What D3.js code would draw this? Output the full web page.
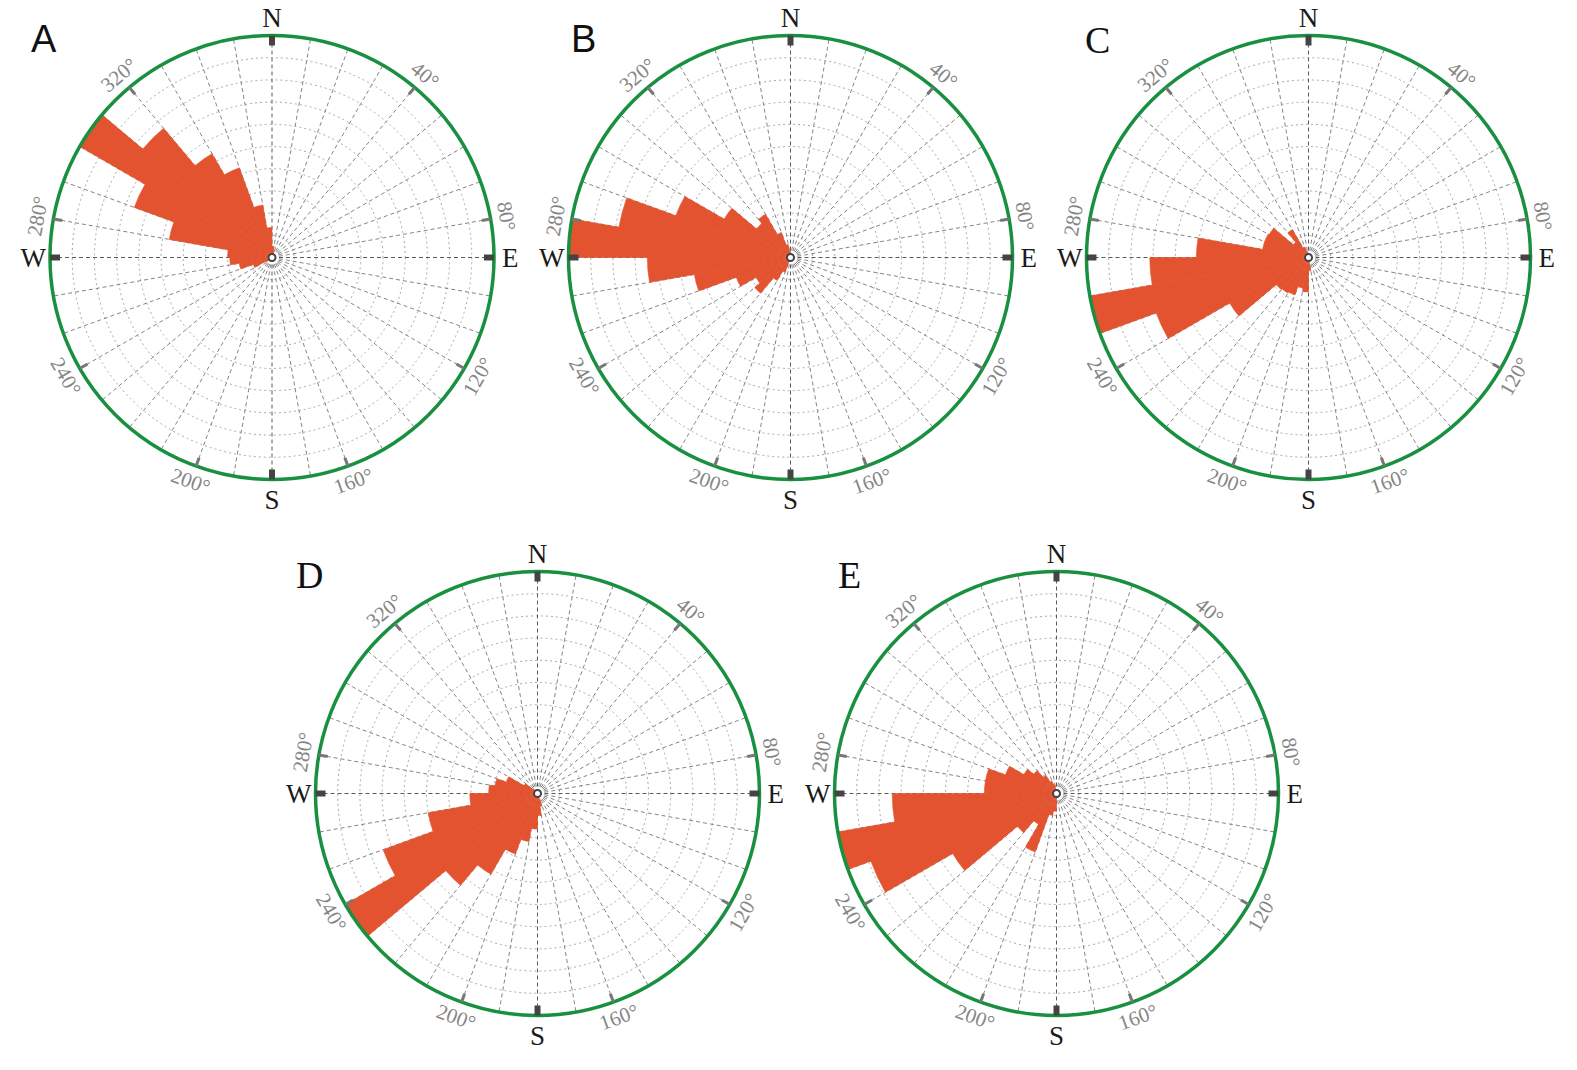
<!DOCTYPE html>
<html>
<head>
<meta charset="utf-8">
<script src="https://cdn.jsdelivr.net/npm/d3@7"></script>
<style>
  body { margin: 0; background: #fff; }
</style>
</head>
<body>
<div id="roses"></div>
<script>
// bin start directions (degrees clockwise from north), 10 degree bins
const binStarts = [0, 10, 20, 30, 40, 50, 60, 70, 80, 90, 100, 110,
  120, 130, 140, 150, 160, 170, 180, 190, 200, 210, 220, 230,
  240, 250, 260, 270, 280, 290, 300, 310, 320, 330, 340, 350];

// petal lengths in ring units (outer circle = 10)
const roseA = [0.5, 0.3, 0, 0, 0, 0, 0, 0, 0, 0, 0, 0,
  0, 0, 0, 0, 0, 0, 0, 0, 0, 0, 0, 0.3,
  0.9, 1.5, 1.9, 2.0, 4.7, 6.6, 10, 7.6, 5.4, 4.3, 2.4, 1.35];
const roseB = [0.2, 0, 0, 0, 0, 0, 0, 0, 0, 0, 0, 0,
  0, 0, 0, 0, 0, 0, 0, 0, 0.7, 1.2, 2.1, 1.8,
  2.6, 4.4, 6.45, 10, 7.85, 5.5, 3.45, 2.0, 2.25, 1.2, 0.6, 0.3];
const roseC = [0, 0, 0, 0, 0, 0, 0, 0, 0, 0, 0, 0,
  0, 0, 0, 0, 0, 0.6, 1.55, 1.4, 1.8, 1.85, 1.9, 4.1,
  7.3, 10, 7.15, 5.05, 2.1, 2.1, 2.05, 0.9, 1.45, 0.5, 0.3, 0];
const roseD = [0, 0, 0, 0, 0, 0, 0, 0, 0, 0, 0, 0,
  0, 0, 0, 0, 0.6, 1.0, 1.6, 2.2, 2.9, 4.2, 5.4, 10,
  7.4, 5.0, 3.05, 2.2, 1.95, 1.5, 0.7, 0.3, 0, 0, 0, 0];
const roseE = [0, 0, 0, 0, 0, 0, 0, 0, 0, 0, 0, 0,
  0, 0, 0, 0, 0, 0, 0.8, 1.0, 2.8, 1.6, 2.3, 5.4,
  8.9, 10, 7.4, 3.25, 3.25, 2.45, 1.7, 1.35, 0.95, 0.6, 0.4, 0];

const ringSteps = [1, 2, 3, 4, 5, 6, 7, 8, 9];
const tickDegrees = [40, 80, 120, 160, 200, 240, 280, 320];
const tickLabels = ["40°", "80°", "120°", "160°", "200°", "240°", "280°", "320°"];
const compassDegrees = [0, 90, 180, 270];
const compassLabels = ["N", "E", "S", "W"];
const panelNames = ["A", "B", "C", "D", "E"];

const width = 1577, height = 1070, R = 222;
const sans = "'Liberation Sans', Arial, sans-serif";
const serif = "'Liberation Serif', 'Times New Roman', serif";

const panels = [
  { values: roseA, cx: 272, cy: 257.5, lx: 31, ly: 52, font: sans },
  { values: roseB, cx: 790.5, cy: 257.5, lx: 571, ly: 52, font: sans },
  { values: roseC, cx: 1308.5, cy: 257.5, lx: 1085, ly: 53, font: serif },
  { values: roseD, cx: 537.5, cy: 793.5, lx: 296, ly: 588, font: serif },
  { values: roseE, cx: 1056.5, cy: 793.5, lx: 838, ly: 588, font: serif }
];

const svg = d3.select("#roses")
  .append("svg")
  .attr("width", width)
  .attr("height", height);

const r = d3.scaleLinear().domain([0, 10]).range([0, R]);
const ang = d3.scaleLinear().domain([0, 360]).range([0, 2 * Math.PI]);
const px = (deg, rad) => rad * Math.sin(ang(deg));
const py = (deg, rad) => -rad * Math.cos(ang(deg));

const arc = d3.arc()
  .innerRadius(0)
  .outerRadius(d => r(d.value))
  .startAngle(d => ang(d.start))
  .endAngle(d => ang(d.start + 10));

panels.forEach((p, i) => {
  const g = svg.append("g").attr("transform", `translate(${p.cx},${p.cy})`);

  // rings
  g.selectAll(".ring")
    .data(ringSteps)
    .enter()
    .append("circle")
    .attr("r", d => r(d))
    .attr("fill", "none")
    .attr("stroke", "#a8a8a8")
    .attr("stroke-width", 1)
    .attr("stroke-dasharray", "2,3");

  // spokes
  g.selectAll(".spoke")
    .data(binStarts)
    .enter()
    .append("line")
    .attr("x1", 0).attr("y1", 0)
    .attr("x2", d => px(d, R))
    .attr("y2", d => py(d, R))
    .attr("stroke", d => d % 90 === 0 ? "#5a5a5a" : "#858585")
    .attr("stroke-width", 1)
    .attr("stroke-dasharray", "4,3");

  // petals
  const petals = binStarts.map((s, k) => ({ start: s, value: p.values[k] }))
    .filter(d => d.value > 0);

  g.selectAll(".petal")
    .data(petals)
    .enter()
    .append("path")
    .attr("d", arc)
    .attr("fill", "#E4532F")
    .attr("stroke", "#E4532F")
    .attr("stroke-width", 0.6);

  // origin marker
  g.append("circle")
    .attr("r", 3.5)
    .attr("fill", "#fff")
    .attr("stroke", "#444")
    .attr("stroke-width", 2);

  // outer circle
  g.append("circle")
    .attr("r", R)
    .attr("fill", "none")
    .attr("stroke", "#18903F")
    .attr("stroke-width", 3.5);

  // degree ticks
  g.selectAll(".tick")
    .data(tickDegrees)
    .enter()
    .append("line")
    .attr("x1", d => px(d, R - 9)).attr("y1", d => py(d, R - 9))
    .attr("x2", d => px(d, R)).attr("y2", d => py(d, R))
    .attr("stroke", "#777")
    .attr("stroke-width", 3);

  // compass ticks
  g.selectAll(".ctick")
    .data(compassDegrees)
    .enter()
    .append("line")
    .attr("x1", d => px(d, R - 10)).attr("y1", d => py(d, R - 10))
    .attr("x2", d => px(d, R)).attr("y2", d => py(d, R))
    .attr("stroke", "#444")
    .attr("stroke-width", 6);

  // degree labels
  g.selectAll(".dlabel")
    .data(tickDegrees)
    .enter()
    .append("text")
    .attr("transform", d => {
      const rot = d > 90 && d < 270 ? d - 180 : (d >= 270 ? d - 360 : d);
      return `translate(${px(d, R + 16)},${py(d, R + 16)}) rotate(${rot})`;
    })
    .attr("text-anchor", "middle")
    .attr("dominant-baseline", "central")
    .style("font-family", serif)
    .style("font-size", "21px")
    .style("fill", "#858585")
    .text((d, k) => tickLabels[k]);

  // compass labels
  const cl = g.append("g")
    .style("font-family", serif)
    .style("font-size", "27px")
    .style("fill", "#1a1a1a");
  cl.append("text").attr("x", 0).attr("y", -231).attr("text-anchor", "middle").text(compassLabels[0]);
  cl.append("text").attr("x", 230).attr("y", 9.5).attr("text-anchor", "start").text(compassLabels[1]);
  cl.append("text").attr("x", 0).attr("y", 251).attr("text-anchor", "middle").text(compassLabels[2]);
  cl.append("text").attr("x", -226).attr("y", 9.5).attr("text-anchor", "end").text(compassLabels[3]);

  // panel letter
  svg.append("text")
    .attr("x", p.lx)
    .attr("y", p.ly)
    .style("font-family", p.font)
    .style("font-size", "38px")
    .style("fill", "#111")
    .text(panelNames[i]);
});
</script>
</body>
</html>
